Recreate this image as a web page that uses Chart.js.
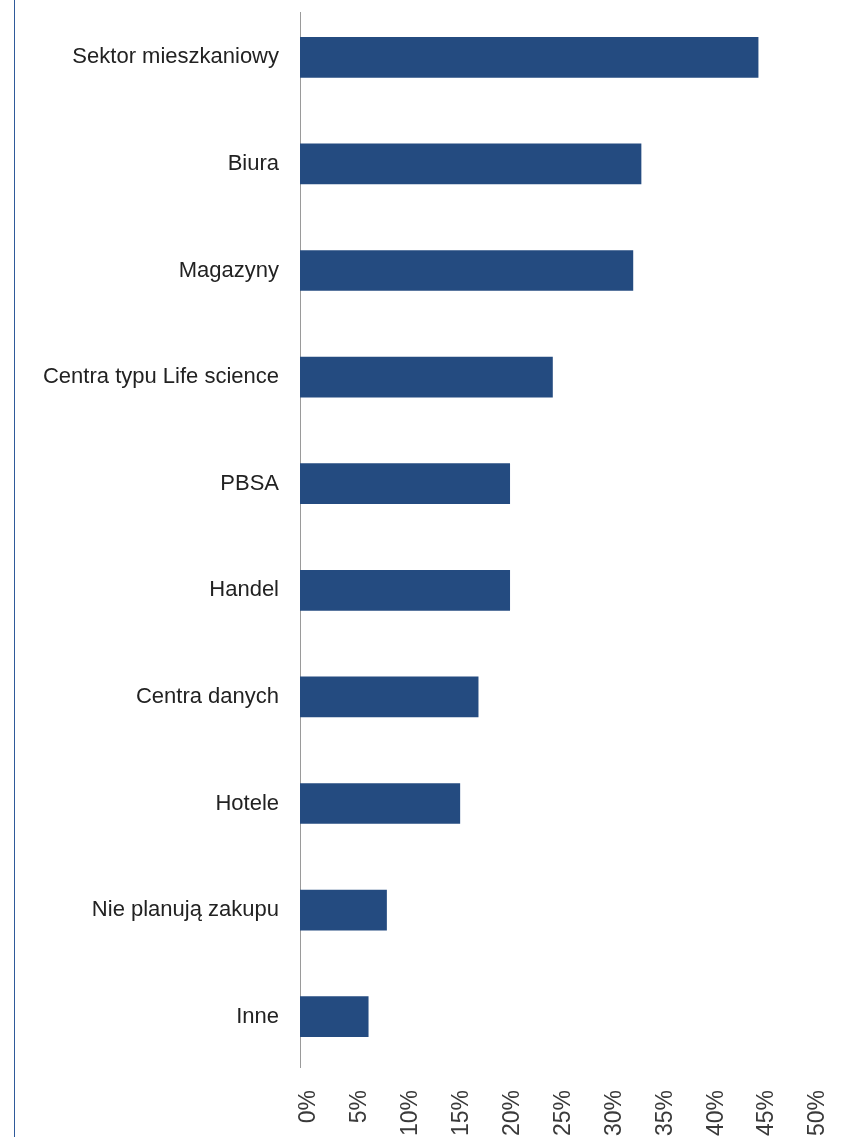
<!DOCTYPE html>
<html>
<head>
<meta charset="utf-8">
<script src="https://cdn.jsdelivr.net/npm/chart.js@4"></script>
<style>
  html, body { margin: 0; padding: 0; background: #fff; overflow: hidden; }
  #wrap { position: relative; width: 842px; height: 1180px; }
  #bar { position: absolute; left: 14px; top: 0; width: 1px; height: 1180px; background: #2f5a9a; }
  canvas { position: absolute; left: 0; top: 0; }
</style>
</head>
<body>
<div id="wrap">
  <div id="bar"></div>
  <canvas id="c" width="842" height="1180"></canvas>
</div>
<script>
const categories = [
  "Sektor mieszkaniowy",
  "Biura",
  "Magazyny",
  "Centra typu Life science",
  "PBSA",
  "Handel",
  "Centra danych",
  "Hotele",
  "Nie planują zakupu",
  "Inne"
];
const values = [45.0, 33.5, 32.7, 24.8, 20.6, 20.6, 17.5, 15.7, 8.5, 6.7];
const tickStep = 5;
const axisMax = 50;

function zeroPad(scale) {
  scale.paddingTop = 0; scale.paddingBottom = 0;
  scale.paddingLeft = 0; scale.paddingRight = 0;
}

const axisLine = {
  id: 'axisLine',
  beforeDatasetsDraw(chart) {
    const { ctx, chartArea } = chart;
    const x = Math.round(chartArea.left) + 0.5;
    ctx.save();
    ctx.strokeStyle = '#9a9a9a';
    ctx.lineWidth = 1;
    ctx.beginPath();
    ctx.moveTo(x, chartArea.top + 8);
    ctx.lineTo(x, chartArea.bottom - 2);
    ctx.stroke();
    ctx.restore();
  }
};

new Chart(document.getElementById('c'), {
  type: 'bar',
  data: {
    labels: categories,
    datasets: [{
      data: values,
      backgroundColor: '#244b80',
      borderWidth: 0,
      barThickness: 40
    }]
  },
  options: {
    indexAxis: 'y',
    responsive: false,
    animation: false,
    layout: { padding: { top: 4, right: 33, bottom: 0, left: 0 } },
    plugins: { legend: { display: false }, tooltip: { enabled: false } },
    scales: {
      x: {
        min: 0, max: axisMax,
        grid: { display: false, drawTicks: false },
        border: { display: false },
        afterFit(scale) { scale.height = 110; zeroPad(scale); },
        ticks: {
          stepSize: tickStep,
          minRotation: 90, maxRotation: 90,
          padding: 20,
          labelOffset: 9,
          color: '#3a3a3a',
          font: { family: 'Liberation Sans, Arial, sans-serif', size: 23, weight: 'normal' },
          callback: v => v + '%'
        }
      },
      y: {
        grid: { display: false, drawTicks: false },
        border: { display: false },
        afterFit(scale) { scale.width = 300; zeroPad(scale); },
        ticks: {
          padding: 21,
          color: '#222222',
          font: { family: 'Liberation Sans, Arial, sans-serif', size: 22 }
        }
      }
    }
  },
  plugins: [axisLine]
});
</script>
</body>
</html>
